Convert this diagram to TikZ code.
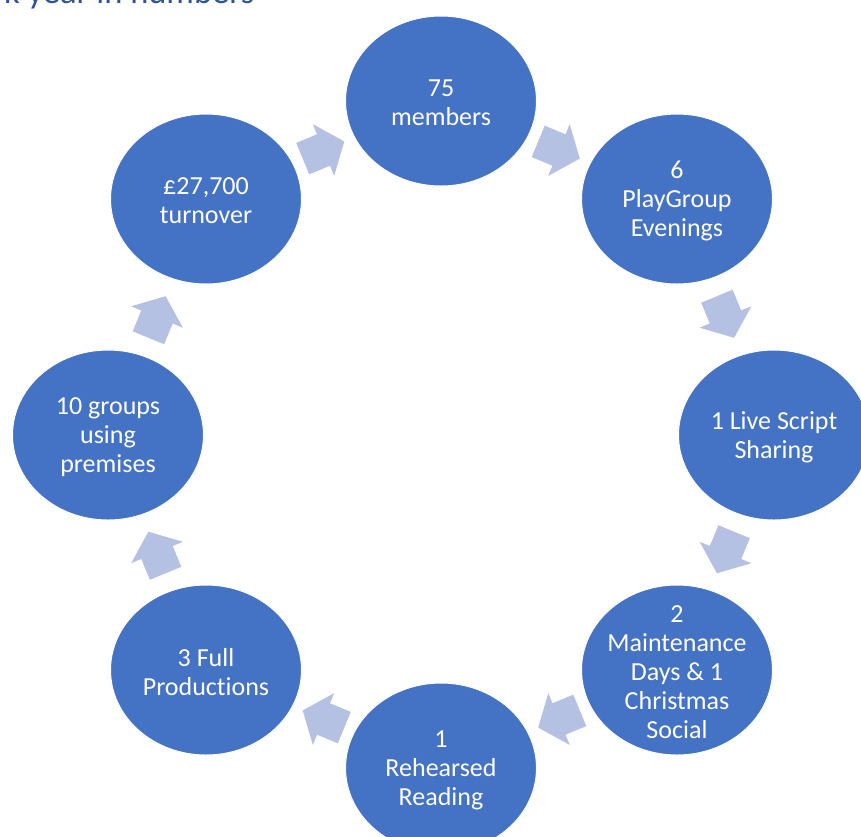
\documentclass[tikz,border=0pt]{standalone}
\usepackage{fontspec}
\setmainfont{Carlito}[Ligatures=NoCommon]
\usetikzlibrary{calc,shapes.geometric}
\definecolor{circc}{HTML}{4472C4}
\definecolor{arrc}{HTML}{B4C1E2}
\definecolor{titlec}{HTML}{2F5496}
\begin{document}
\begin{tikzpicture}[x=1pt,y=-1pt,
  bubble/.style={ellipse, fill=circc, draw=white, line width=1pt,
    minimum width=191pt, minimum height=170pt, inner sep=0pt},
  txt/.style={text=white, align=center, inner sep=0pt, yshift=-2pt,
    font=\fontsize{26}{29}\selectfont},
  blockarrow/.pic={\fill[arrc] (-22.5,-17) -- (0,-17) -- (0,-28) -- (22.5,0)
    -- (0,28) -- (0,17) -- (-22.5,17) -- cycle;}]
\useasboundingbox (0,0) rectangle (861,836);
\clip (0,0) rectangle (861,836);
\node[anchor=base west, inner sep=0pt, text=titlec,
  font=\fontsize{34.5}{40}\selectfont] (title) at (4,3) {k year in numbers};
\node[bubble, label={[txt]center:{75\\members}}] (n1) at (441,101) {};
\node[bubble, label={[txt]center:{6\\PlayGroup\\Evenings}}] (n2) at (677,199) {};
\node[bubble, label={[txt]center:{1 Live Script\\Sharing}}] (n3) at (774,435) {};
\node[bubble, label={[txt]center:{2\\Maintenance\\Days \& 1\\Christmas\\Social}}] (n4) at (677,670) {};
\node[bubble, label={[txt]center:{1\\Rehearsed\\Reading}}] (n5) at (441,768) {};
\node[bubble, label={[txt]center:{3 Full\\Productions}}] (n6) at (206,670) {};
\node[bubble, label={[txt]center:{10 groups\\using\\premises}}] (n7) at (108,435) {};
\node[bubble, label={[txt]center:{£27,700\\turnover}}] (n8) at (206,199) {};
\path ($(n1)!0.5!(n2)$) pic[rotate=-22.5] {blockarrow};
\path ($(n2)!0.5!(n3)$) pic[rotate=-67.5] {blockarrow};
\path ($(n3)!0.5!(n4)$) pic[rotate=-112.5] {blockarrow};
\path ($(n4)!0.5!(n5)$) pic[rotate=-157.5] {blockarrow};
\path ($(n5)!0.5!(n6)$) pic[rotate=157.5] {blockarrow};
\path ($(n6)!0.5!(n7)$) pic[rotate=112.5] {blockarrow};
\path ($(n7)!0.5!(n8)$) pic[rotate=67.5] {blockarrow};
\path ($(n8)!0.5!(n1)$) pic[rotate=22.5] {blockarrow};
\end{tikzpicture}
\end{document}
